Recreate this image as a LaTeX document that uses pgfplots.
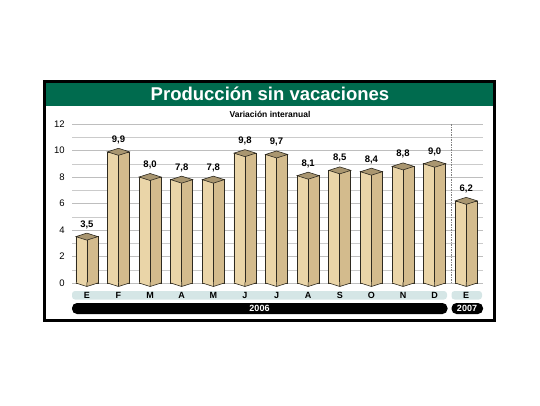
\documentclass[border=0pt]{standalone}
\usepackage{pgfplots}
\pgfplotsset{compat=1.18}
\usepackage{pgfplotstable}
\usepackage{fontspec}
\setmainfont{Liberation Sans}
\usepackage{graphicx}

\definecolor{tanL}{HTML}{EAD5A8}
\definecolor{tanR}{HTML}{D3BB8D}
\definecolor{tanT}{HTML}{A99670}
\definecolor{edge}{HTML}{2E2A20}
\definecolor{band}{HTML}{D5E6E6}
\definecolor{titlegreen}{HTML}{006B4E}
\definecolor{gridc}{HTML}{BEBEBE}

\pgfdeclareplotmark{topdiamond}{%
  \pgfsetfillcolor{tanT}\pgfsetstrokecolor{edge}%
  \pgfpathmoveto{\pgfqpoint{-11pt}{0pt}}%
  \pgfpathlineto{\pgfqpoint{0pt}{3.5pt}}%
  \pgfpathlineto{\pgfqpoint{11pt}{0pt}}%
  \pgfpathlineto{\pgfqpoint{0pt}{-3.5pt}}%
  \pgfpathclose
  \pgfusepathqfillstroke
}
\pgfdeclareplotmark{bottomv}{%
  \pgfsetfillcolor{tanL}%
  \pgfpathmoveto{\pgfqpoint{-10.6pt}{0.7pt}}%
  \pgfpathlineto{\pgfqpoint{0pt}{0.7pt}}%
  \pgfpathlineto{\pgfqpoint{0pt}{-3.5pt}}%
  \pgfpathlineto{\pgfqpoint{-10.6pt}{-0.2pt}}%
  \pgfpathclose
  \pgfusepathqfill
  \pgfsetfillcolor{tanR}%
  \pgfpathmoveto{\pgfqpoint{10.6pt}{0.7pt}}%
  \pgfpathlineto{\pgfqpoint{0pt}{0.7pt}}%
  \pgfpathlineto{\pgfqpoint{0pt}{-3.5pt}}%
  \pgfpathlineto{\pgfqpoint{10.6pt}{-0.2pt}}%
  \pgfpathclose
  \pgfusepathqfill
  \pgfsetstrokecolor{edge}%
  \pgfpathmoveto{\pgfqpoint{-11pt}{0pt}}%
  \pgfpathlineto{\pgfqpoint{0pt}{-3.5pt}}%
  \pgfpathlineto{\pgfqpoint{11pt}{0pt}}%
  \pgfpathmoveto{\pgfqpoint{0pt}{0.7pt}}%
  \pgfpathlineto{\pgfqpoint{0pt}{-3.5pt}}%
  \pgfusepathqstroke
}

\pgfplotstableread{
x v b l
0 3.5 0 3,5
1 9.9 0 9,9
2 8.0 0 8,0
3 7.8 0 7,8
4 7.8 0 7,8
5 9.8 0 9,8
6 9.7 0 9,7
7 8.1 0 8,1
8 8.5 0 8,5
9 8.4 0 8,4
10 8.8 0 8,8
11 9.0 0 9,0
12 6.2 0 6,2
}\data

\begin{document}
\begin{tikzpicture}
\path[use as bounding box] (0pt,0pt) rectangle (540pt,405pt);
% title band
\fill[titlegreen] (45pt,322pt) rectangle (494pt,299pt);
\node[text=white, font=\bfseries\fontsize{18.5}{18.5}\selectfont] at (270pt,311pt) {Producción sin vacaciones};
\node[font=\bfseries\fontsize{8.5}{8.5}\selectfont] at (270pt,291pt) {Variación interanual};
% category bands
\fill[band, rounded corners=3pt] (72pt,114pt) rectangle (447pt,105.5pt);
\fill[band, rounded corners=3pt] (451.5pt,114pt) rectangle (482pt,105.5pt);
\fill[black, rounded corners=5pt] (72pt,102pt) rectangle (447.5pt,91pt);
\fill[black, rounded corners=5pt] (451.5pt,102pt) rectangle (483pt,91pt);
\node[text=white, font=\bfseries\fontsize{9}{9}\selectfont] at (259.5pt,96.5pt) {2006};
\node[text=white, font=\bfseries\fontsize{9}{9}\selectfont] at (467pt,96.5pt) {2007};
\begin{axis}[
  at={(72pt,122pt)}, anchor=south west,
  scale only axis, width=411pt, height=159pt,
  xmin=-0.47, xmax=12.53, ymin=0, ymax=12,
  axis line style={draw=none}, tick style={draw=none},
  ytick={0,2,...,12}, minor ytick={1,3,...,11},
  ymajorgrids, yminorgrids,
  major grid style={gridc, line width=0.6pt},
  minor grid style={gridc!80, line width=0.5pt},
  xtick={0,...,12},
  xticklabels={E,F,M,A,M,J,J,A,S,O,N,D,E},
  xticklabel style={font=\bfseries\fontsize{9}{9}\selectfont, anchor=base, yshift=-15.5pt},
  yticklabel style={font=\fontsize{9.5}{9.5}\selectfont, anchor=east, xshift=-3.7pt},
  /pgf/number format/assume math mode=true,
  clip=false,
]
\draw[gray, dash pattern=on 1.5pt off 1pt, line width=0.8pt] (axis cs:11.52,0) -- (axis cs:11.52,12);
\addplot[ybar, bar width=11pt, bar shift=-5.5pt, fill=tanL, draw=edge, line width=0.6pt] table[x=x,y=v]{\data};
\addplot[ybar, bar width=11pt, bar shift=5.5pt, fill=tanR, draw=edge, line width=0.6pt] table[x=x,y=v]{\data};
\addplot[only marks, mark=bottomv, line width=0.6pt] table[x=x,y=b]{\data};
\addplot[only marks, mark=topdiamond, line width=0.6pt,
  point meta=explicit symbolic, nodes near coords,
  every node near coord/.append style={anchor=base, yshift=9.5pt, font=\bfseries\fontsize{9.5}{9.5}\selectfont, text=black}]
  table[x=x,y=v,meta=l]{\data};
\end{axis}
% frame
\draw[line width=3pt] (44.5pt,323.5pt) rectangle (494.5pt,84.5pt);
\end{tikzpicture}
\end{document}
